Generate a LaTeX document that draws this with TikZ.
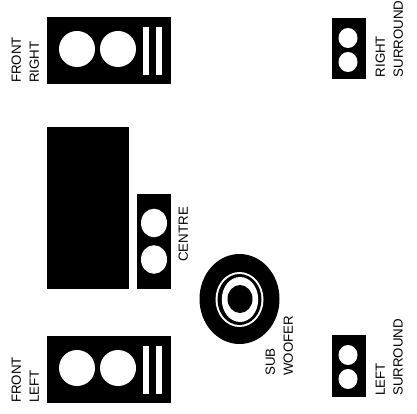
\documentclass[tikz,border=0pt]{standalone}
\usepackage{fontspec}
\setmainfont{Liberation Sans}
\tikzset{
  lbl/.style={rotate=90,anchor=north west,inner sep=0pt,align=left,
    font=\fontsize{13.3}{17.8}\selectfont},
}
\begin{document}
\begin{tikzpicture}[x=1pt,y=-1pt]
  \useasboundingbox (0,0) rectangle (417,414);
  % front speakers
  \foreach \t in {17,336} {
    \fill (47,\t) rectangle (171,\t+67);
    \foreach \c in {77,118} \fill[white] (\c,\t+32) circle (18);
    \foreach \b in {143,156} \fill[white] (\b,\t+10) rectangle (\b+6.3,\t+58);
  }
  % screen and centre
  \fill (47,127) rectangle (129,289);
  \fill (137,194) rectangle (170.5,289);
  \foreach \c in {223,259.5} \fill[white] (154,\c) ellipse [x radius=13,y radius=14.3];
  % sub
  \fill (239.5,299) ellipse [x radius=40,y radius=45];
  \fill[white] (239.5,299.5) ellipse [x radius=24,y radius=27.5];
  \fill (239.5,299.5) ellipse [x radius=22,y radius=25.5];
  \fill[white] (240,299.5) ellipse [x radius=18.2,y radius=22.5];
  \fill (240,299) ellipse [x radius=12.5,y radius=14];
  % surrounds
  \foreach \t in {18,335} {
    \fill (332,\t) rectangle (365.5,\t+61.5);
    \foreach \c in {20,44} \fill[white] (348,\t+\c) ellipse [x radius=9.5,y radius=10];
  }
  \node[lbl] (frontright) at (11.5,83) {FRONT\\RIGHT};
  \node[lbl] (frontleft) at (11.5,403) {FRONT\\LEFT};
  \node[lbl] (centre) at (178.5,262) {CENTRE};
  \node[lbl] (sub) at (265.5,376) {SUB\\WOOFER};
  \node[lbl] (leftsur) at (375.5,396) {LEFT\\SURROUND};
  \node[lbl] (rightsur) at (375.5,77.5) {RIGHT\\SURROUND};
\end{tikzpicture}
\end{document}
